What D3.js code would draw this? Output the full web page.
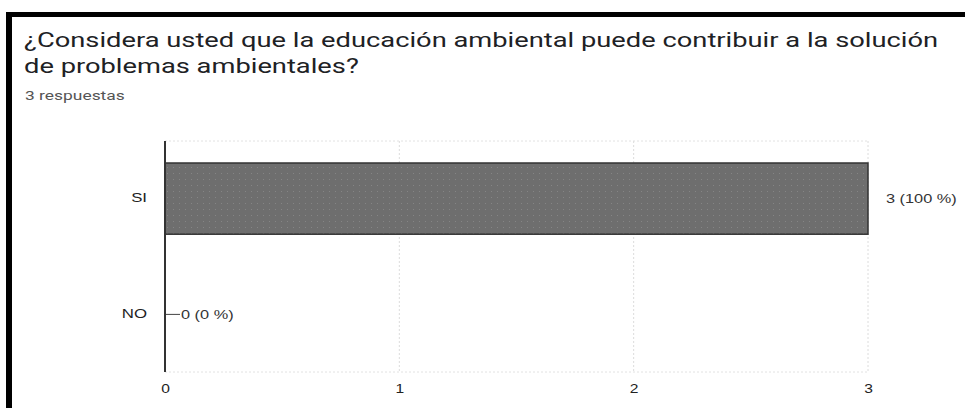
<!DOCTYPE html>
<html>
<head>
<meta charset="utf-8">
<script src="https://cdn.jsdelivr.net/npm/d3@7"></script>
<style>
  body { margin: 0; background: #fff; }
  svg { display: block; }
</style>
</head>
<body>
<svg id="chart"></svg>
<script>
const width = 965;
const height = 408;

const titleLines = [
  "¿Considera usted que la educación ambiental puede contribuir a la solución",
  "de problemas ambientales?"
];
const subtitle = "3 respuestas";
const categorias = ["SI", "NO"];
const valores = [3, 0];
const etiquetas = ["3 (100 %)", "0 (0 %)"];
const ticks = [0, 1, 2, 3];

const margin = { top: 141, right: 97, bottom: 36, left: 165 };
const plotW = width - margin.left - margin.right;
const plotH = height - margin.top - margin.bottom;

// la captura original esta estirada en horizontal
function estirar(sel, factor) {
  sel.each(function() {
    const w = this.getComputedTextLength();
    d3.select(this)
      .attr("textLength", w * factor)
      .attr("lengthAdjust", "spacingAndGlyphs");
  });
}

const svg = d3.select("#chart")
  .attr("width", width)
  .attr("height", height);

// marco negro (solo arriba e izquierda)
svg.append("line")
  .attr("x1", 6).attr("x2", width)
  .attr("y1", 14.5).attr("y2", 14.5)
  .attr("stroke", "#000").attr("stroke-width", 5);
svg.append("line")
  .attr("x1", 9).attr("x2", 9)
  .attr("y1", 12).attr("y2", height)
  .attr("stroke", "#000").attr("stroke-width", 6);

const titulo = svg.selectAll(".title")
  .data(titleLines)
  .enter().append("text")
  .attr("class", "title")
  .attr("x", 24)
  .attr("y", (d, i) => 47 + i * 26)
  .style("font-family", "Roboto, sans-serif")
  .style("font-size", "21px")
  .attr("fill", "#202124")
  .text(d => d);
estirar(titulo, 1.3);

const sub = svg.append("text")
  .attr("x", 25)
  .attr("y", 100)
  .style("font-family", "Roboto, sans-serif")
  .style("font-size", "12px")
  .attr("fill", "#555")
  .text(subtitle);
estirar(sub, 1.45);

const g = svg.append("g")
  .attr("transform", `translate(${margin.left},${margin.top})`);

const x = d3.scaleLinear().domain([0, 3]).range([0, plotW]);
const y = d3.scaleBand().domain(categorias).range([0, plotH]).paddingInner(0.385).paddingOuter(0.19);

const defs = svg.append("defs");
const pat = defs.append("pattern")
  .attr("id", "puntos")
  .attr("width", 6).attr("height", 6)
  .attr("patternUnits", "userSpaceOnUse");
pat.append("rect").attr("width", 6).attr("height", 6).attr("fill", "#6e6e6e");
pat.append("rect").attr("x", 2).attr("y", 2).attr("width", 1).attr("height", 1).attr("fill", "#858585");

// grid
g.selectAll(".grid")
  .data(ticks.slice(1))
  .enter().append("line")
  .attr("x1", d => x(d)).attr("x2", d => x(d))
  .attr("y1", 0).attr("y2", plotH)
  .attr("stroke", "#dcdcdc")
  .attr("stroke-dasharray", "2,2");
g.selectAll(".hgrid")
  .data([0, plotH])
  .enter().append("line")
  .attr("x1", 0).attr("x2", plotW)
  .attr("y1", d => d).attr("y2", d => d)
  .attr("stroke", "#e2e2e2")
  .attr("stroke-dasharray", "2,2");

// barras
g.selectAll(".bar")
  .data(valores)
  .enter().append("rect")
  .attr("x", 0)
  .attr("y", (d, i) => y(categorias[i]))
  .attr("width", d => x(d))
  .attr("height", y.bandwidth())
  .attr("fill", "url(#puntos)")
  .attr("stroke", d => d > 0 ? "#333" : "none")
  .attr("stroke-width", 1.5);

// trazo para valores cero
g.selectAll(".zero")
  .data(valores.filter(d => d === 0))
  .enter().append("line")
  .attr("x1", 0).attr("x2", 15)
  .attr("y1", (d) => y(categorias[valores.indexOf(d)]) + y.bandwidth() / 2)
  .attr("y2", (d) => y(categorias[valores.indexOf(d)]) + y.bandwidth() / 2)
  .attr("stroke", "#444");

// etiquetas de valor
const vals = g.selectAll(".val")
  .data(valores)
  .enter().append("text")
  .attr("x", d => d > 0 ? x(d) + 18 : 16)
  .attr("y", (d, i) => y(categorias[i]) + y.bandwidth() / 2)
  .attr("dy", "0.35em")
  .style("font-family", "'Liberation Sans', Arial, sans-serif")
  .style("font-size", "12px")
  .attr("fill", "#333")
  .text((d, i) => etiquetas[i]);
estirar(vals, 1.36);

// eje y
const yAxis = g.append("g").call(d3.axisLeft(y).tickSize(0).tickPadding(18));
yAxis.select(".domain").attr("stroke", "#333").attr("stroke-width", 2).attr("d", `M0,0V${plotH}`);
yAxis.selectAll("text")
  .style("font-family", "'Liberation Sans', Arial, sans-serif")
  .style("font-size", "12px")
  .attr("fill", "#222");
estirar(yAxis.selectAll("text"), 1.4);

// eje x
const xAxis = g.append("g")
  .attr("transform", `translate(0,${plotH})`)
  .call(d3.axisBottom(x).tickValues(ticks).tickFormat(d3.format("d")).tickSize(0).tickPadding(12));
xAxis.select(".domain").remove();
xAxis.selectAll("text")
  .style("font-family", "'Liberation Sans', Arial, sans-serif")
  .style("font-size", "12px")
  .attr("fill", "#222");
estirar(xAxis.selectAll("text"), 1.3);
</script>
</body>
</html>
